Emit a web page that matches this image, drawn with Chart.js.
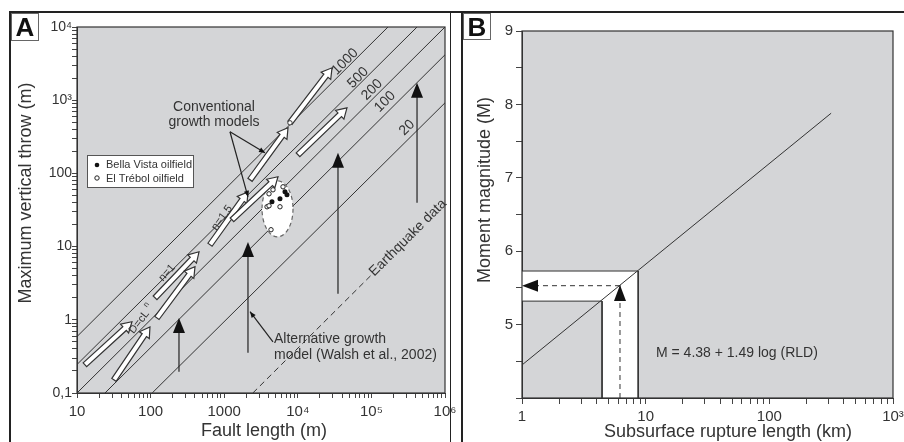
<!DOCTYPE html>
<html>
<head>
<meta charset="utf-8">
<script src="https://cdn.jsdelivr.net/npm/chart.js@4.4.1/dist/chart.umd.min.js"></script>
<style>
  body { margin: 0; background: #fff; width: 904px; height: 442px; overflow: hidden; position: relative; font-family: "Liberation Sans", Arial, sans-serif; }
  #wa { position: absolute; left: 0; top: 0; }
  #wb { position: absolute; left: 462px; top: 0; }
  .ln { position: absolute; background: #222; }
  .tag { position: absolute; box-sizing: border-box; border: 1px solid #666; background: #fff; color: #111; font-weight: bold; font-size: 26px; line-height: 26px; text-align: center; }
</style>
</head>
<body>
<canvas id="wa" width="462" height="442"></canvas>
<canvas id="wb" width="442" height="442"></canvas>
<div class="ln" style="left:9px;top:11px;width:895px;height:2px"></div>
<div class="ln" style="left:9px;top:11px;width:2px;height:431px"></div>
<div class="ln" style="left:450px;top:11px;width:1px;height:431px"></div>
<div class="ln" style="left:461px;top:11px;width:2px;height:431px"></div>
<div class="tag" style="left:11px;top:13px;width:28px;height:28px">A</div>
<div class="tag" style="left:463px;top:13px;width:28px;height:27px">B</div>
<script>
// ---- Panel A : fault throw vs length ----
const xDecadesA = [10, 100, 1000, 1e4, 1e5, 1e6];
const xLabelsA = ['10', '100', '1000', '10⁴', '10⁵', '10⁶'];
const yDecadesA = [0.1, 1, 10, 100, 1000, 1e4];
const yLabelsA = ['0,1', '1', '10', '100', '10³', '10⁴'];

// straight reference lines, [L start, D start, L end, D end]
const ratioLines = [
  [10, 0.59, 168000, 1e4],
  [10, 0.245, 417000, 1e4],
  [10, 0.1, 1e6, 1e4],
  [24, 0.1, 1e6, 4170],
  [105, 0.1, 1e6, 921]
];
const ratioLabels = ['1000', '500', '200', '100', '20'];
const ratioLabelPos = [[43750, 3350], [65800, 2023], [101800, 1387], [153000, 951], [304700, 420]];
const quakeLine = [[2450, 0.1], [105000, 4.3]];

// white growth arrows, [L tail, D tail, L tip, D tip]
const openArrows = [
  [12.8, 0.243, 55.8, 0.94],
  [31.8, 0.151, 98, 0.80],
  [115, 2.0, 455, 8.5],
  [122, 1.06, 401, 5.3],
  [641, 10.6, 2104, 56],
  [1276, 23.2, 5380, 89.9],
  [2244, 81.8, 7362, 420],
  [7830, 491, 29170, 2770],
  [10070, 179.6, 46560, 787]
];
const junction = [7830, 491];
// black vertical arrows, [L, D bottom, D tip]
const growthArrows = [
  [243, 0.195, 1.06],
  [2104, 0.354, 11.6],
  [35160, 2.27, 191],
  [416800, 39.7, 1729]
];
const bellaVista = [[4457, 40.9], [5727, 45], [6700, 56], [7130, 51]];
const elTrebol = [[4600, 59.7], [4064, 52.6], [3820, 35], [4064, 36.1], [5727, 35], [4325, 17], [6295, 65.6]];
const ellipseBox = [3266, 8610, 13.6, 79];

const convText = ['Conventional', 'growth models'];
const convPos = [726, 813];
const convTargets = [[3580, 191], [2104, 47.9]];
const altText = ['Alternative growth', 'model (Walsh et al., 2002)'];
const altPos = [4750, 0.55];
const altFrom = [4600, 0.50];
const altTip = [2244, 1.29];
const quakeText = 'Earthquake data';
const quakePos = [314000, 13.2];
const nLabels = [['n=1', 167, 4.39, -48], ['n=1.5', 933, 24.7, -54], ['D=cL', 70, 0.93, -52]];
const titlesA = { x: 'Fault length (m)', y: 'Maximum vertical throw (m)' };

// ---- Panel B : magnitude vs rupture length ----
const xDecadesB = [1, 10, 100, 1000];
const xLabelsB = ['1', '10', '100', '10³'];
const yLabelsB = [5, 6, 7, 8, 9];
const magLine = [[1, 4.45], [316, 7.88]];
const bandUpper = [[1, 5.73], [8.7, 5.73], [8.7, 4]];
const bandLower = [[1, 5.32], [4.44, 5.32], [4.44, 4]];
const readUp = [[6.2, 4], [6.2, 5.54]];
const readLeft = [[6.2, 5.53], [1, 5.53]];
const eqText = 'M = 4.38 + 1.49 log (RLD)';
const eqPos = [54.7, 4.61];
const titlesB = { x: 'Subsurface rupture length (km)', y: 'Moment magnitude (M)' };

const FONT = '"Liberation Sans", Arial, sans-serif';
const PLOT_BG = '#d4d5d7';
const INK = '#333';
Chart.defaults.font.family = FONT;
Chart.defaults.color = INK;

const pts = arr => arr.map(p => ({ x: p[0], y: p[1] }));

function logTicks(lo, hi) {
  const out = [];
  for (let d = lo; d <= hi * 1.0001; d *= 10) {
    for (let m = 1; m < 10; m++) {
      if (m * d > hi * 1.0001) break;
      out.push({ value: m * d });
    }
  }
  return out;
}
function decadeLabel(v, decades, labels) {
  const i = decades.findIndex(d => Math.abs(v / d - 1) < 1e-6);
  return i >= 0 ? labels[i] : '';
}
function fixBox(w, h) {
  return s => {
    if (w != null) s.width = w;
    if (h != null) s.height = h;
    s.paddingLeft = s.paddingRight = s.paddingTop = s.paddingBottom = 0;
  };
}
function P(chart, x, y) {
  return [chart.scales.x.getPixelForValue(x), chart.scales.y.getPixelForValue(y)];
}
function head(ctx, x, y, ang, len, half) {
  ctx.save();
  ctx.translate(x, y);
  ctx.rotate(ang);
  ctx.beginPath();
  ctx.moveTo(0, 0);
  ctx.lineTo(-len, -half);
  ctx.lineTo(-len, half);
  ctx.closePath();
  ctx.fillStyle = '#111';
  ctx.fill();
  ctx.restore();
}
function openArrow(ctx, x0, y0, x1, y1) {
  const a = Math.atan2(y1 - y0, x1 - x0), len = Math.hypot(x1 - x0, y1 - y0);
  const hw = 2.6, hh = 6, hl = 10;
  ctx.save();
  ctx.translate(x0, y0);
  ctx.rotate(a);
  ctx.beginPath();
  ctx.moveTo(0, -hw);
  ctx.lineTo(len - hl, -hw);
  ctx.lineTo(len - hl, -hh);
  ctx.lineTo(len, 0);
  ctx.lineTo(len - hl, hh);
  ctx.lineTo(len - hl, hw);
  ctx.lineTo(0, hw);
  ctx.closePath();
  ctx.fillStyle = '#fff';
  ctx.fill();
  ctx.strokeStyle = '#333';
  ctx.lineWidth = 1.2;
  ctx.stroke();
  ctx.restore();
}
function rotText(ctx, txt, x, y, ang, size) {
  ctx.save();
  ctx.translate(x, y);
  ctx.rotate(ang);
  ctx.font = size + 'px ' + FONT;
  ctx.textAlign = 'center';
  ctx.textBaseline = 'middle';
  ctx.fillStyle = INK;
  ctx.fillText(txt, 0, 0);
  ctx.restore();
}
function plotBg(chart) {
  const a = chart.chartArea, ctx = chart.ctx;
  ctx.save();
  ctx.fillStyle = PLOT_BG;
  ctx.fillRect(a.left, a.top, a.right - a.left, a.bottom - a.top);
  ctx.restore();
}
function plotFrame(chart) {
  const a = chart.chartArea, ctx = chart.ctx;
  ctx.save();
  ctx.strokeStyle = '#333';
  ctx.lineWidth = 1.2;
  ctx.strokeRect(a.left, a.top, a.right - a.left, a.bottom - a.top);
  ctx.restore();
}
// axis titles drawn by hand so they sit where the figure has them
function axisTitles(chart, titles, xPos, yPos) {
  const ctx = chart.ctx;
  ctx.save();
  ctx.fillStyle = INK;
  ctx.font = '18px ' + FONT;
  ctx.textAlign = 'center';
  ctx.textBaseline = 'middle';
  ctx.fillText(titles.x, xPos[0], xPos[1]);
  rotText(ctx, titles.y, yPos[0], yPos[1], -Math.PI / 2, 18);
  ctx.restore();
}

const lineSet = (data, dash) => ({
  type: 'line', data: pts(data), borderColor: '#333', borderWidth: 1,
  borderDash: dash || [], pointRadius: 0, fill: false, tension: 0
});

// plugin for panel A extras
const panelA = {
  id: 'panelA',
  beforeDraw: plotBg,
  afterDatasetDraw(chart, args) {
    if (args.index !== 2) return;
    const ctx = chart.ctx;
    // dashed white ellipse round the oilfield data
    const [x0, y0] = P(chart, ellipseBox[0], ellipseBox[3]);
    const [x1, y1] = P(chart, ellipseBox[1], ellipseBox[2]);
    ctx.save();
    ctx.beginPath();
    ctx.ellipse((x0 + x1) / 2, (y0 + y1) / 2, (x1 - x0) / 2, (y1 - y0) / 2, 0, 0, Math.PI * 2);
    ctx.fillStyle = '#fff';
    ctx.fill();
    ctx.setLineDash([4, 3]);
    ctx.strokeStyle = '#666';
    ctx.lineWidth = 1.2;
    ctx.stroke();
    ctx.restore();
    openArrows.forEach(a => {
      const [ax, ay] = P(chart, a[0], a[1]);
      const [bx, by] = P(chart, a[2], a[3]);
      openArrow(ctx, ax, ay, bx, by);
    });
    const [jx, jy] = P(chart, junction[0], junction[1]);
    ctx.save();
    ctx.beginPath();
    ctx.arc(jx, jy, 2.2, 0, Math.PI * 2);
    ctx.fillStyle = '#fff';
    ctx.fill();
    ctx.strokeStyle = '#333';
    ctx.stroke();
    ctx.restore();
  },
  afterDatasetsDraw(chart) {
    const ctx = chart.ctx, a = chart.chartArea;
    const xs = chart.scales.x, ys = chart.scales.y;
    const ang = Math.atan2(ys.getPixelForValue(10) - ys.getPixelForValue(1),
      xs.getPixelForValue(100) - xs.getPixelForValue(10));
    ctx.save();
    ctx.strokeStyle = '#222';
    ctx.lineWidth = 1.2;
    growthArrows.forEach(g => {
      const [x, yb] = P(chart, g[0], g[1]);
      const [, yt] = P(chart, g[0], g[2]);
      ctx.beginPath();
      ctx.moveTo(x, yb);
      ctx.lineTo(x, yt + 10);
      ctx.stroke();
      head(ctx, x, yt, -Math.PI / 2, 15, 6);
    });
    // callouts
    const [cx, cy] = P(chart, convPos[0], convPos[1]);
    ctx.font = '14px ' + FONT;
    ctx.fillStyle = INK;
    ctx.textAlign = 'center';
    ctx.textBaseline = 'middle';
    ctx.fillText(convText[0], cx, cy);
    ctx.fillText(convText[1], cx, cy + 15);
    convTargets.forEach(t => {
      const [tx, ty] = P(chart, t[0], t[1]);
      const sx = cx + 16, sy = cy + 25;
      ctx.beginPath();
      ctx.moveTo(sx, sy);
      ctx.lineTo(tx, ty);
      ctx.stroke();
      head(ctx, tx, ty, Math.atan2(ty - sy, tx - sx), 6, 2.5);
    });
    const [ax, ay] = P(chart, altPos[0], altPos[1]);
    ctx.textAlign = 'left';
    ctx.fillText(altText[0], ax, ay);
    ctx.fillText(altText[1], ax, ay + 16);
    const [fx, fy] = P(chart, altFrom[0], altFrom[1]);
    const [tx, ty] = P(chart, altTip[0], altTip[1]);
    ctx.beginPath();
    ctx.moveTo(fx, fy);
    ctx.lineTo(tx, ty);
    ctx.stroke();
    head(ctx, tx, ty, Math.atan2(ty - fy, tx - fx), 6, 2.5);
    // rotated labels
    ratioLabels.forEach((t, i) => {
      const [lx, ly] = P(chart, ratioLabelPos[i][0], ratioLabelPos[i][1]);
      rotText(ctx, t, lx, ly, ang, 14);
    });
    const [qx, qy] = P(chart, quakePos[0], quakePos[1]);
    rotText(ctx, quakeText, qx, qy, ang, 14);
    nLabels.forEach(n => {
      const [nx, ny] = P(chart, n[1], n[2]);
      rotText(ctx, n[0], nx, ny, n[3] * Math.PI / 180, 11);
      if (n[0] === 'D=cL') {
        ctx.save();
        ctx.translate(nx, ny);
        ctx.rotate(n[3] * Math.PI / 180);
        ctx.font = '8px ' + FONT;
        ctx.fillStyle = INK;
        ctx.fillText('n', 16, -5);
        ctx.restore();
      }
    });
    // legend box
    const lx = a.left + 10, ly = a.top + 128;
    ctx.fillStyle = '#fff';
    ctx.fillRect(lx, ly, 106, 32);
    ctx.strokeStyle = '#555';
    ctx.lineWidth = 1;
    ctx.strokeRect(lx + 0.5, ly + 0.5, 106, 32);
    ctx.beginPath();
    ctx.arc(lx + 10, ly + 10, 2.3, 0, Math.PI * 2);
    ctx.fillStyle = '#111';
    ctx.fill();
    ctx.beginPath();
    ctx.arc(lx + 10, ly + 23, 2.2, 0, Math.PI * 2);
    ctx.fillStyle = '#fff';
    ctx.fill();
    ctx.strokeStyle = '#222';
    ctx.stroke();
    ctx.font = '11px ' + FONT;
    ctx.fillStyle = INK;
    ctx.textAlign = 'left';
    ctx.fillText('Bella Vista oilfield', lx + 19, ly + 10);
    ctx.fillText('El Trébol oilfield', lx + 19, ly + 24);
    ctx.restore();
  },
  afterDraw(chart) {
    plotFrame(chart);
    axisTitles(chart, titlesA, [264, 431], [26, 193]);
  }
};

new Chart(document.getElementById('wa'), {
  data: {
    datasets: [
      { type: 'scatter', data: pts(bellaVista), pointRadius: 2.5, backgroundColor: '#111', borderColor: '#111', borderWidth: 0 },
      { type: 'scatter', data: pts(elTrebol), pointRadius: 2.2, backgroundColor: '#fff', borderColor: '#222', borderWidth: 1 },
      ...ratioLines.map(l => lineSet([[l[0], l[1]], [l[2], l[3]]])),
      lineSet(quakeLine, [6, 4])
    ]
  },
  options: {
    responsive: false,
    animation: false,
    layout: { padding: { left: 0, top: 27, right: 17, bottom: 0 } },
    plugins: { legend: { display: false }, tooltip: { enabled: false } },
    scales: {
      x: {
        type: 'logarithmic', min: 10, max: 1e6,
        afterBuildTicks: s => { s.ticks = logTicks(10, 1e6); },
        afterFit: fixBox(null, 49),
        ticks: { autoSkip: false, maxRotation: 0, padding: 5, color: INK, font: { size: 15 },
          callback: v => decadeLabel(v, xDecadesA, xLabelsA) },
        grid: { drawOnChartArea: false, tickLength: 5, color: '#444' },
        border: { color: '#333' }
      },
      y: {
        type: 'logarithmic', min: 0.1, max: 1e4,
        afterBuildTicks: s => { s.ticks = logTicks(0.1, 1e4); },
        afterFit: fixBox(77, null),
        ticks: { autoSkip: false, padding: 0, color: INK, font: { size: 14 },
          callback: v => decadeLabel(v, yDecadesA, yLabelsA) },
        grid: { drawOnChartArea: false, tickLength: 5, color: '#444' },
        border: { color: '#333' }
      }
    }
  },
  plugins: [panelA]
});

// plugin for panel B extras
const panelB = {
  id: 'panelB',
  beforeDraw: plotBg,
  beforeDatasetsDraw(chart) {
    const ctx = chart.ctx;
    const poly = bandUpper.concat(bandLower.slice().reverse());
    ctx.save();
    ctx.beginPath();
    poly.forEach((p, i) => {
      const [x, y] = P(chart, p[0], p[1]);
      if (i === 0) ctx.moveTo(x, y); else ctx.lineTo(x, y);
    });
    ctx.closePath();
    ctx.fillStyle = '#fff';
    ctx.fill();
    ctx.restore();
  },
  afterDatasetsDraw(chart) {
    const ctx = chart.ctx;
    const [ux, uy] = P(chart, readUp[1][0], readUp[1][1]);
    head(ctx, ux, uy, -Math.PI / 2, 16, 6);
    const [lx, ly] = P(chart, readLeft[1][0], readLeft[1][1]);
    head(ctx, lx, ly, Math.PI, 16, 6);
    const [ex, ey] = P(chart, eqPos[0], eqPos[1]);
    ctx.save();
    ctx.font = '14px ' + FONT;
    ctx.fillStyle = INK;
    ctx.textAlign = 'center';
    ctx.textBaseline = 'middle';
    ctx.fillText(eqText, ex, ey);
    ctx.restore();
  },
  afterDraw(chart) {
    plotFrame(chart);
    axisTitles(chart, titlesB, [266, 432], [23, 190]);
  }
};

new Chart(document.getElementById('wb'), {
  data: {
    datasets: [
      lineSet(magLine),
      lineSet(bandUpper),
      lineSet(bandLower),
      lineSet(readUp, [5, 4]),
      lineSet(readLeft, [5, 4])
    ]
  },
  options: {
    responsive: false,
    animation: false,
    layout: { padding: { left: 0, top: 31, right: 11, bottom: 0 } },
    plugins: { legend: { display: false }, tooltip: { enabled: false } },
    scales: {
      x: {
        type: 'logarithmic', min: 1, max: 1000,
        afterBuildTicks: s => { s.ticks = logTicks(1, 1000); },
        afterFit: fixBox(null, 44),
        ticks: { autoSkip: false, maxRotation: 0, padding: 4, color: INK, font: { size: 15 },
          callback: v => decadeLabel(v, xDecadesB, xLabelsB) },
        grid: { drawOnChartArea: false, tickLength: 6, color: '#444' },
        border: { color: '#333' }
      },
      y: {
        type: 'linear', min: 4, max: 9,
        afterFit: fixBox(60, null),
        ticks: { stepSize: 0.5, autoSkip: false, padding: 3, color: INK, font: { size: 15 },
          callback: v => (yLabelsB.includes(v) ? String(v) : '') },
        grid: { drawOnChartArea: false, tickLength: 6, color: '#444' },
        border: { color: '#333' }
      }
    }
  },
  plugins: [panelB]
});
</script>
</body>
</html>
